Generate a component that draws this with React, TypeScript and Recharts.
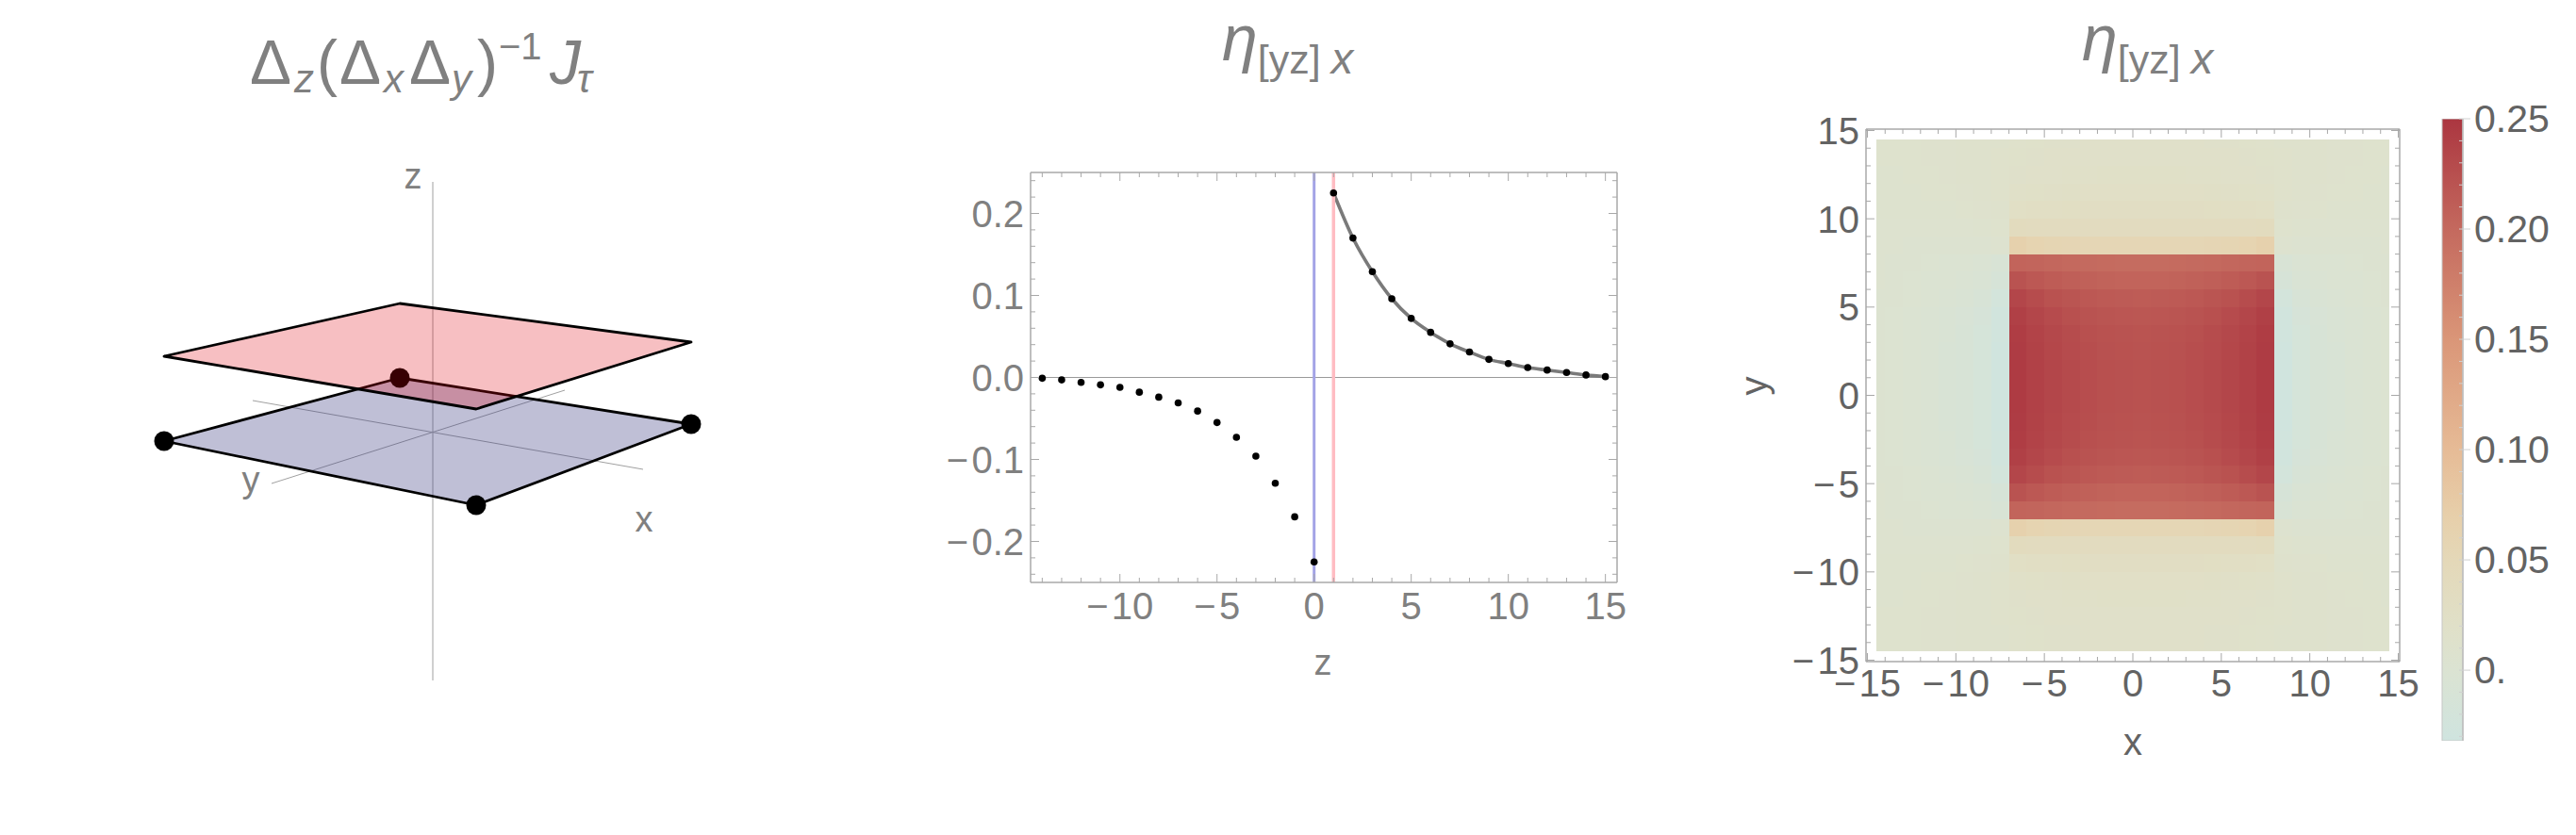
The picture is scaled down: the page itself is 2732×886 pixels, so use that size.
import { Bar, BarChart, ComposedChart, Line, ReferenceArea, ReferenceDot, ReferenceLine, Scatter, ScatterChart, XAxis, YAxis } from "recharts";

// --- left panel: projected corners of the two planes and the axes
const bluePlane = [
  { x: -2.85, y: -0.09 },
  { x: -0.35, y: 0.58 },
  { x: 2.74, y: 0.09 },
  { x: 0.46, y: -0.77 },
];
const pinkPlane = [
  { x: -2.85, y: 0.81 },
  { x: -0.35, y: 1.37 },
  { x: 2.74, y: 0.96 },
  { x: 0.46, y: 0.25 },
];
const axisZ = [{ x: 0, y: 2.66 }, { x: 0, y: -2.63 }];
const axisX = [{ x: -1.91, y: 0.34 }, { x: 2.23, y: -0.39 }];
const axisY = [{ x: 1.4, y: 0.45 }, { x: -1.71, y: -0.54 }];
const axisNames = [
  { name: "z", x: -0.21, y: 2.72 },
  { name: "y", x: -1.93, y: -0.5 },
  { name: "x", x: 2.24, y: -0.92 },
];

// --- middle panel
const zValues = [-14, -13, -12, -11, -10, -9, -8, -7, -6, -5, -4, -3, -2, -1, 0, 1, 2, 3, 4, 5, 6, 7, 8, 9, 10, 11, 12, 13, 14, 15];
const etaValues = [
  -0.001, -0.003, -0.006, -0.009, -0.012, -0.018, -0.024, -0.031, -0.041, -0.055, -0.073, -0.096, -0.129, -0.17, -0.225,
  0.225, 0.17, 0.129, 0.096, 0.072, 0.055, 0.041, 0.031, 0.022, 0.017, 0.012, 0.009, 0.006, 0.003, 0.001,
];
const fitValues = [
  null, null, null, null, null, null, null, null, null, null, null, null, null, null, null,
  0.225, 0.17, 0.129, 0.096, 0.072, 0.055, 0.041, 0.031, 0.022, 0.017, 0.012, 0.009, 0.006, 0.003, 0.001,
];
const midXTicks = [-14, -13, -12, -11, -10, -9, -8, -7, -6, -5, -4, -3, -2, -1, 0, 1, 2, 3, 4, 5, 6, 7, 8, 9, 10, 11, 12, 13, 14, 15];
const midXLabels = [-10, -5, 0, 5, 10, 15];
const midYTicks = [-0.24, -0.22, -0.2, -0.18, -0.16, -0.14, -0.12, -0.1, -0.08, -0.06, -0.04, -0.02, 0, 0.02, 0.04, 0.06, 0.08, 0.1, 0.12, 0.14, 0.16, 0.18, 0.2, 0.22, 0.24];
const midYLabels = [-0.2, -0.1, 0, 0.1, 0.2];

// --- right panel
const cellEdges = [-14.5, -14, -13, -12, -11, -10, -9, -8, -7, -6, -5, -4, -3, -2, -1, 0, 1, 2, 3, 4, 5, 6, 7, 8, 9, 10, 11, 12, 13, 14, 14.5];
// values x 1000, first row is the top of the picture, left to right
const heatRows = [
  [10, 10, 10, 11, 11, 12, 12, 13, 15, 16, 17, 17, 18, 18, 18, 18, 18, 18, 18, 17, 17, 16, 15, 13, 12, 12, 11, 11, 10, 10],
  [10, 10, 10, 11, 11, 12, 13, 14, 16, 17, 18, 18, 19, 19, 19, 19, 19, 19, 19, 18, 18, 17, 16, 14, 13, 12, 11, 11, 10, 10],
  [9, 9, 10, 10, 11, 12, 13, 14, 17, 18, 19, 20, 20, 21, 21, 21, 21, 21, 20, 20, 19, 18, 17, 14, 13, 12, 11, 10, 10, 9],
  [9, 9, 9, 10, 10, 11, 12, 14, 20, 21, 22, 23, 24, 24, 24, 24, 24, 24, 24, 23, 22, 21, 20, 14, 12, 11, 10, 10, 9, 9],
  [8, 8, 8, 8, 9, 10, 11, 13, 25, 27, 28, 29, 30, 30, 30, 30, 30, 30, 30, 29, 28, 27, 25, 13, 11, 10, 9, 8, 8, 8],
  [7, 7, 7, 6, 6, 7, 8, 10, 38, 37, 37, 37, 37, 37, 37, 37, 37, 37, 37, 37, 37, 37, 38, 10, 8, 7, 6, 6, 7, 7],
  [7, 6, 5, 5, 4, 4, 5, 6, 66, 60, 57, 56, 55, 55, 55, 55, 55, 55, 55, 56, 57, 60, 66, 6, 5, 4, 4, 5, 5, 6],
  [6, 5, 4, 3, 1, 0, -2, -8, 205, 204, 202, 200, 199, 198, 197, 197, 197, 198, 199, 200, 202, 204, 205, -8, -2, 0, 1, 3, 4, 5],
  [6, 4, 3, 1, -1, -3, -6, -13, 222, 217, 213, 210, 208, 206, 205, 205, 205, 206, 208, 210, 213, 217, 222, -13, -6, -3, -1, 1, 3, 4],
  [5, 4, 2, 0, -3, -6, -10, -21, 234, 228, 223, 220, 217, 215, 214, 213, 214, 215, 217, 220, 223, 228, 234, -21, -10, -6, -3, 0, 2, 4],
  [5, 3, 1, -2, -5, -9, -14, -26, 240, 234, 229, 225, 222, 220, 219, 218, 219, 220, 222, 225, 229, 234, 240, -26, -14, -9, -5, -2, 1, 3],
  [5, 3, 0, -3, -6, -10, -16, -28, 243, 237, 232, 228, 225, 223, 222, 221, 222, 223, 225, 228, 232, 237, 243, -28, -16, -10, -6, -3, 0, 3],
  [4, 2, 0, -3, -7, -11, -17, -29, 244, 238, 233, 229, 226, 224, 223, 222, 223, 224, 226, 229, 233, 238, 244, -29, -17, -11, -7, -3, 0, 2],
  [4, 2, 0, -3, -7, -11, -17, -29, 245, 239, 234, 230, 227, 225, 224, 223, 224, 225, 227, 230, 234, 239, 245, -29, -17, -11, -7, -3, 0, 2],
  [4, 2, 0, -3, -7, -11, -17, -29, 245, 239, 234, 230, 227, 225, 224, 223, 224, 225, 227, 230, 234, 239, 245, -29, -17, -11, -7, -3, 0, 2],
  [4, 2, 0, -3, -7, -11, -17, -29, 245, 239, 234, 230, 227, 225, 224, 223, 224, 225, 227, 230, 234, 239, 245, -29, -17, -11, -7, -3, 0, 2],
  [4, 2, 0, -3, -7, -11, -17, -29, 244, 238, 233, 229, 226, 224, 223, 222, 223, 224, 226, 229, 233, 238, 244, -29, -17, -11, -7, -3, 0, 2],
  [5, 3, 0, -3, -6, -10, -16, -28, 243, 237, 232, 228, 225, 223, 222, 221, 222, 223, 225, 228, 232, 237, 243, -28, -16, -10, -6, -3, 0, 3],
  [5, 3, 1, -2, -5, -9, -14, -26, 240, 234, 229, 225, 222, 220, 219, 218, 219, 220, 222, 225, 229, 234, 240, -26, -14, -9, -5, -2, 1, 3],
  [5, 4, 2, 0, -3, -6, -10, -21, 234, 228, 223, 220, 217, 215, 214, 213, 214, 215, 217, 220, 223, 228, 234, -21, -10, -6, -3, 0, 2, 4],
  [6, 4, 3, 1, -1, -3, -6, -13, 222, 217, 213, 210, 208, 206, 205, 205, 205, 206, 208, 210, 213, 217, 222, -13, -6, -3, -1, 1, 3, 4],
  [6, 5, 4, 3, 1, 0, -2, -8, 205, 204, 202, 200, 199, 198, 197, 197, 197, 198, 199, 200, 202, 204, 205, -8, -2, 0, 1, 3, 4, 5],
  [7, 6, 5, 5, 4, 4, 5, 6, 66, 60, 57, 56, 55, 55, 55, 55, 55, 55, 55, 56, 57, 60, 66, 6, 5, 4, 4, 5, 5, 6],
  [7, 7, 7, 6, 6, 7, 8, 10, 38, 37, 37, 37, 37, 37, 37, 37, 37, 37, 37, 37, 37, 37, 38, 10, 8, 7, 6, 6, 7, 7],
  [8, 8, 8, 8, 9, 10, 11, 13, 25, 27, 28, 29, 30, 30, 30, 30, 30, 30, 30, 29, 28, 27, 25, 13, 11, 10, 9, 8, 8, 8],
  [9, 9, 9, 10, 10, 11, 12, 14, 20, 21, 22, 23, 24, 24, 24, 24, 24, 24, 24, 23, 22, 21, 20, 14, 12, 11, 10, 10, 9, 9],
  [9, 9, 10, 10, 11, 12, 13, 14, 17, 18, 19, 20, 20, 21, 21, 21, 21, 21, 20, 20, 19, 18, 17, 14, 13, 12, 11, 10, 10, 9],
  [10, 10, 10, 11, 11, 12, 13, 14, 16, 17, 18, 18, 19, 19, 19, 19, 19, 19, 19, 18, 18, 17, 16, 14, 13, 12, 11, 11, 10, 10],
  [10, 10, 10, 11, 11, 12, 12, 13, 15, 16, 17, 17, 18, 18, 18, 18, 18, 18, 18, 17, 17, 16, 15, 13, 12, 12, 11, 11, 10, 10],
  [10, 10, 10, 11, 11, 12, 12, 13, 15, 16, 17, 17, 18, 18, 18, 18, 18, 18, 18, 17, 17, 16, 15, 13, 12, 12, 11, 11, 10, 10],
];
const heatTicks = [-15, -14, -13, -12, -11, -10, -9, -8, -7, -6, -5, -4, -3, -2, -1, 0, 1, 2, 3, 4, 5, 6, 7, 8, 9, 10, 11, 12, 13, 14, 15];
const heatLabels = [-15, -10, -5, 0, 5, 10, 15];

// --- colour bar
const barStops = [
  { value: 0.25, color: "#ab3640" },
  { value: 0.2, color: "#c4695e" },
  { value: 0.15, color: "#da9678" },
  { value: 0.1, color: "#e6bb96" },
  { value: 0.07, color: "#e7cfaa" },
  { value: 0.05, color: "#e4d8b8" },
  { value: 0.02, color: "#e0e0c8" },
  { value: 0, color: "#dbe3d2" },
  { value: -0.032, color: "#cfe4df" },
];
const barRange = [{ name: "scale", range: [-0.032, 0.25] }];
const barTicks = [0.25, 0.24, 0.23, 0.22, 0.21, 0.2, 0.19, 0.18, 0.17, 0.16, 0.15, 0.14, 0.13, 0.12, 0.11, 0.1, 0.09, 0.08, 0.07, 0.06, 0.05, 0.04, 0.03, 0.02, 0.01, 0, -0.01, -0.02, -0.03];
const barLabels: Record<string, string> = { "0.25": "0.25", "0.2": "0.20", "0.15": "0.15", "0.1": "0.10", "0.05": "0.05", "0": "0." };

const FONT = '"Liberation Sans", Arial, sans-serif';
const GRAY = "#808080";
const DARK = "#636363";
const FRAME = "#a8a8a8";

const midTable = zValues.map((z, i) => ({ z, eta: etaValues[i], fit: fitValues[i] }));

function hexToRgb(hex: string) {
  return [1, 3, 5].map((i) => parseInt(hex.slice(i, i + 2), 16));
}

function colorFor(value: number) {
  for (let i = 0; i < barStops.length - 1; i++) {
    const hi = barStops[i];
    const lo = barStops[i + 1];
    if (value <= hi.value && value >= lo.value) {
      const t = (value - lo.value) / (hi.value - lo.value);
      const a = hexToRgb(lo.color);
      const b = hexToRgb(hi.color);
      return `rgb(${a.map((c, k) => Math.round(c + (b[k] - c) * t)).join(",")})`;
    }
  }
  return value > 0 ? barStops[0].color : barStops[barStops.length - 1].color;
}

const heatCells = heatRows.flatMap((row, r) =>
  row.map((v, c) => ({
    x1: cellEdges[c],
    x2: cellEdges[c + 1],
    y1: cellEdges[30 - r],
    y2: cellEdges[29 - r],
    fill: colorFor(v / 1000),
  })),
);

function signed(v: number, digits = 0) {
  const s = Math.abs(v).toFixed(digits);
  return v < 0 ? `\u2212\u200a${s}` : s;
}

// Mathematica-style frame tick: points into the frame, long on labelled values
function FrameTick(props: any) {
  const { x, y, payload, side, labelled, digits = 0, color, fontSize = 40, gap = 10, tickColor = FRAME, major = 9, minor = 5 } = props;
  const isMajor = labelled.includes(payload.value);
  const len = isMajor ? major : minor;
  const dx = side === "left" ? len : side === "right" ? -len : 0;
  const dy = side === "bottom" ? -len : side === "top" ? len : 0;
  const text = signed(payload.value, digits);
  return (
    <g>
      <line x1={x} y1={y} x2={x + dx} y2={y + dy} stroke={tickColor} strokeWidth={1} />
      {isMajor && side === "bottom" && (
        <text x={x} y={y + gap + fontSize * 0.72} textAnchor="middle" fontFamily={FONT} fontSize={fontSize} fill={color}>
          {text}
        </text>
      )}
      {isMajor && side === "left" && (
        <text x={x - gap} y={y + fontSize * 0.36} textAnchor="end" fontFamily={FONT} fontSize={fontSize} fill={color}>
          {text}
        </text>
      )}
    </g>
  );
}

function BarTick({ x, y, payload }: any) {
  const label = barLabels[String(payload.value)];
  return (
    <g>
      <line x1={x - 4} y1={y} x2={label ? x + 8 : x} y2={y} stroke="#d0d0d0" strokeWidth={1} />
      {label && (
        <text x={x + 12} y={y + 14} fontFamily={FONT} fontSize={41} fill={DARK}>
          {label}
        </text>
      )}
    </g>
  );
}

function planeOutline(fill: string, fillOpacity: number) {
  return (p: any) => (
    <polygon
      points={p.points.map((q: any) => `${q.x},${q.y}`).join(" ")}
      fill={fill}
      fillOpacity={fillOpacity}
      stroke="#000"
      strokeWidth={2.8}
      strokeLinejoin="round"
    />
  );
}

function PlaneDiagram() {
  return (
    <ScatterChart width={700} height={600} margin={{ top: 0, right: 0, bottom: 0, left: 0 }}>
      <XAxis type="number" dataKey="x" hide domain={[-3.59, 3.41]} allowDataOverflow />
      <YAxis type="number" dataKey="y" hide domain={[-2.91, 3.09]} allowDataOverflow />
      <Scatter
        data={bluePlane}
        isAnimationActive={false}
        line={planeOutline("#3c3c82", 0.33)}
        shape={(p: any) => <circle cx={p.cx} cy={p.cy} r={10.5} fill="#000" />}
      />
      <Scatter data={pinkPlane} isAnimationActive={false} line={planeOutline("#e1000a", 0.25)} shape={() => <g />} />
      <ReferenceLine segment={axisZ} stroke="#a0a0a0" strokeWidth={1} ifOverflow="visible" />
      <ReferenceLine segment={axisX} stroke="#a0a0a0" strokeWidth={1} ifOverflow="visible" />
      <ReferenceLine segment={axisY} stroke="#a0a0a0" strokeWidth={1} ifOverflow="visible" />
      {axisNames.map((a) => (
        <ReferenceDot
          key={a.name}
          x={a.x}
          y={a.y}
          r={0}
          fill="none"
          stroke="none"
          label={{ value: a.name, position: "center", fontFamily: FONT, fontSize: 38, fill: GRAY }}
        />
      ))}
    </ScatterChart>
  );
}

function MiddlePanel() {
  return (
    <ComposedChart width={760} height={600} data={midTable} margin={{ top: 22, right: 44, bottom: 0, left: 0 }}>
      <XAxis
        type="number"
        dataKey="z"
        domain={[-14.6, 15.6]}
        allowDataOverflow
        ticks={midXTicks}
        interval={0}
        height={142}
        tickSize={0}
        tickMargin={0}
        axisLine={{ stroke: FRAME, strokeWidth: 1.5 }}
        tick={<FrameTick side="bottom" labelled={midXLabels} color={GRAY} fontSize={40} gap={10} />}
        label={{ value: "z", position: "insideBottom", offset: 44, dx: -1, fontFamily: FONT, fontSize: 38, fill: GRAY }}
      />
      <XAxis
        xAxisId="top"
        orientation="top"
        type="number"
        dataKey="z"
        domain={[-14.6, 15.6]}
        allowDataOverflow
        ticks={midXTicks}
        interval={0}
        height={1}
        tickSize={0}
        tickMargin={0}
        axisLine={{ stroke: FRAME, strokeWidth: 1.5 }}
        tick={<FrameTick side="top" labelled={midXLabels} />}
      />
      <YAxis
        type="number"
        domain={[-0.25, 0.25]}
        allowDataOverflow
        ticks={midYTicks}
        interval={0}
        width={93}
        tickSize={0}
        tickMargin={0}
        axisLine={{ stroke: FRAME, strokeWidth: 1.5 }}
        tick={<FrameTick side="left" labelled={midYLabels} digits={1} color={GRAY} fontSize={40} gap={7} />}
      />
      <YAxis
        yAxisId="right"
        orientation="right"
        type="number"
        dataKey="eta"
        domain={[-0.25, 0.25]}
        allowDataOverflow
        ticks={midYTicks}
        interval={0}
        width={1}
        tickSize={0}
        tickMargin={0}
        axisLine={{ stroke: FRAME, strokeWidth: 1.5 }}
        tick={<FrameTick side="right" labelled={midYLabels} />}
      />
      <ReferenceLine y={0} stroke="#9a9a9a" strokeWidth={1} />
      <Scatter dataKey="eta" isAnimationActive={false} shape={(p: any) => <circle cx={p.cx} cy={p.cy} r={3.8} fill="#000" />} />
      <Line dataKey="fit" type="monotone" stroke="#7a7a7a" strokeWidth={3.6} dot={false} isAnimationActive={false} />
      <ReferenceLine x={0} stroke="#a3a3e6" strokeWidth={3} />
      <ReferenceLine x={1} stroke="#ffbcc2" strokeWidth={3.5} />
    </ComposedChart>
  );
}

function DensityPanel() {
  return (
    <ComposedChart width={800} height={760} margin={{ top: 36, right: 54, bottom: 0, left: 0 }}>
      <XAxis
        type="number"
        dataKey="x"
        domain={[-15.08, 15.08]}
        allowDataOverflow
        ticks={heatTicks}
        interval={0}
        height={158}
        tickSize={0}
        tickMargin={0}
        axisLine={{ stroke: FRAME, strokeWidth: 1.5 }}
        tick={<FrameTick side="bottom" labelled={heatLabels} color={DARK} fontSize={40} gap={8} />}
        label={{ value: "x", position: "insideBottom", offset: 59, fontFamily: FONT, fontSize: 40, fill: DARK }}
      />
      <XAxis
        xAxisId="top"
        orientation="top"
        type="number"
        dataKey="x"
        domain={[-15.08, 15.08]}
        allowDataOverflow
        ticks={heatTicks}
        interval={0}
        height={1}
        tickSize={0}
        tickMargin={0}
        axisLine={{ stroke: FRAME, strokeWidth: 1.5 }}
        tick={<FrameTick side="top" labelled={heatLabels} />}
      />
      <YAxis
        type="number"
        dataKey="y"
        domain={[-15.08, 15.08]}
        allowDataOverflow
        ticks={heatTicks}
        interval={0}
        width={179}
        tickSize={0}
        tickMargin={0}
        axisLine={{ stroke: FRAME, strokeWidth: 1.5 }}
        tick={<FrameTick side="left" labelled={heatLabels} color={DARK} fontSize={40} gap={7} />}
        label={{ value: "y", angle: -90, position: "insideLeft", offset: 60, fontFamily: FONT, fontSize: 40, fill: DARK }}
      />
      <YAxis
        yAxisId="right"
        orientation="right"
        type="number"
        dataKey="y"
        domain={[-15.08, 15.08]}
        allowDataOverflow
        ticks={heatTicks}
        interval={0}
        width={1}
        tickSize={0}
        tickMargin={0}
        axisLine={{ stroke: FRAME, strokeWidth: 1.5 }}
        tick={<FrameTick side="right" labelled={heatLabels} />}
      />
      {heatCells.map((cell, i) => (
        <ReferenceArea
          key={i}
          x1={cell.x1}
          x2={cell.x2}
          y1={cell.y1}
          y2={cell.y2}
          fill={cell.fill}
          fillOpacity={1}
          stroke="none"
          shapeRendering="crispEdges"
          ifOverflow="visible"
        />
      ))}
    </ComposedChart>
  );
}

function ColorBar() {
  return (
    <BarChart width={172} height={720} data={barRange} barCategoryGap={0} margin={{ top: 26, right: 0, bottom: 34, left: 30 }}>
      <defs>
        <linearGradient id="heatScale" x1="0" y1="0" x2="0" y2="1">
          {barStops.map((s) => (
            <stop key={s.value} offset={(0.25 - s.value) / 0.282} stopColor={s.color} />
          ))}
        </linearGradient>
      </defs>
      <XAxis dataKey="name" hide />
      <YAxis
        orientation="right"
        type="number"
        domain={[-0.032, 0.25]}
        allowDataOverflow
        ticks={barTicks}
        interval={0}
        width={120}
        tickSize={0}
        tickMargin={0}
        axisLine={{ stroke: "#bdbdbd", strokeWidth: 1.5 }}
        tick={<BarTick />}
      />
      <Bar dataKey="range" fill="url(#heatScale)" stroke="#c6c6c6" strokeWidth={1} isAnimationActive={false} />
    </BarChart>
  );
}

function EtaTitle({ x }: { x: number }) {
  return (
    <text x={x} y={64} fontFamily={FONT} fill={GRAY}>
      <tspan fontSize={68} fontStyle="italic">η</tspan>
      <tspan fontSize={43} dy={14}>[yz]</tspan>
      <tspan fontSize={47} dx={11} fontStyle="italic">x</tspan>
    </text>
  );
}

function Titles() {
  return (
    <svg width={2732} height={886} style={{ position: "absolute", left: 0, top: 0, pointerEvents: "none" }}>
      <g fontFamily={FONT} fill={GRAY} fontSize={66}>
        <text x={265} y={89}>Δ</text>
        <text x={312} y={98} fontSize={42} fontStyle="italic">z</text>
        <text x={336} y={89}>(</text>
        <text x={360} y={89}>Δ</text>
        <text x={407} y={98} fontSize={42} fontStyle="italic">x</text>
        <text x={434} y={89}>Δ</text>
        <text x={479} y={98} fontSize={42} fontStyle="italic">y</text>
        <text x={506} y={89}>)</text>
        <text x={529} y={63} fontSize={40}>−1</text>
        <text x={583} y={89} fontStyle="italic">J</text>
        <text x={612} y={98} fontSize={42} fontStyle="italic">τ</text>
      </g>
      <EtaTitle x={1296} />
      <EtaTitle x={2208} />
    </svg>
  );
}

export default function App() {
  return (
    <div style={{ position: "absolute", left: 0, top: 0, width: 2732, height: 886, background: "#fff", overflow: "hidden" }}>
      <div style={{ position: "absolute", left: 100, top: 150 }}>
        <PlaneDiagram />
      </div>
      <div style={{ position: "absolute", left: 1000, top: 160 }}>
        <MiddlePanel />
      </div>
      <div style={{ position: "absolute", left: 1800, top: 100 }}>
        <DensityPanel />
      </div>
      <div style={{ position: "absolute", left: 2560, top: 100 }}>
        <ColorBar />
      </div>
      <Titles />
    </div>
  );
}
